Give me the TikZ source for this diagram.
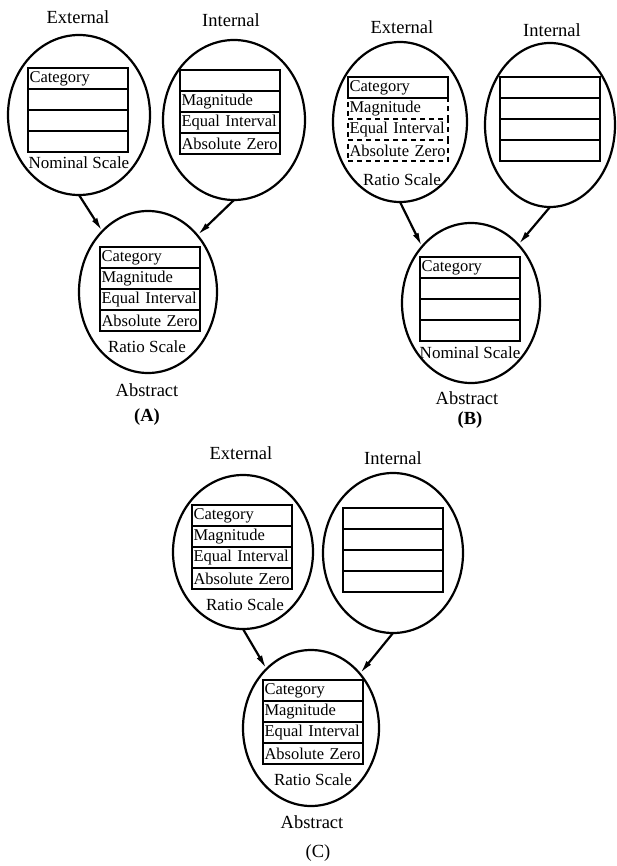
\documentclass[tikz,border=0pt]{standalone}
\usepackage{fontspec}
\setmainfont{Liberation Serif}
\usetikzlibrary{shapes.geometric,arrows.meta,positioning}

\tikzset{
  realm/.style={ellipse, draw, line width=2.2pt, inner sep=0pt, outer sep=0pt},
  cell/.style={draw, line width=2pt, anchor=north west, outer sep=0pt,
    minimum height=21pt, text width=97pt, inner xsep=1.5pt, inner ysep=0pt,
    align=left, font=\fontsize{16.5}{18}\selectfont},
  dcell/.style={cell, dashed, dash pattern=on 5pt off 4pt},
  head/.style={font=\fontsize{18.5}{20}\selectfont},
  scl/.style={font=\fontsize{17}{18}\selectfont},
  feed/.style={-{Latex[length=14pt,width=6pt]}, line width=2.2pt},
}

\begin{document}
\begin{tikzpicture}[x=1pt,y=-1pt]
    \useasboundingbox (0,0) rectangle (616,866);

    % (A)
    \node[head] (hxA) at (78,17) {External};
    \node[head] (hiA) at (231,20) {Internal};
    \node[realm, minimum width=142pt, minimum height=160pt] (extA) at (79,115) {};
    \node[realm, minimum width=142pt, minimum height=160pt] (intA) at (234,120) {};
    \node[realm, minimum width=138pt, minimum height=162pt] (absA) at (148,292) {};
    \foreach \t [count=\i] in {Category,{},{},{}}
        \node[cell] (xA\i) at (28,{68+21*(\i-1)}) {\t};
    \foreach \t [count=\i] in {{},Magnitude,Equal Interval,Absolute Zero}
        \node[cell] (iA\i) at (180,{70+21*(\i-1)}) {\t};
    \foreach \t [count=\i] in {Category,Magnitude,Equal Interval,Absolute Zero}
        \node[cell] (aA\i) at (100,{247+21*(\i-1)}) {\t};
    \node[scl] (sxA) at (79,163) {Nominal Scale};
    \node[scl] (saA) at (147,347) {Ratio Scale};
    \node[head] (abA) at (147,390) {Abstract};
    \node[head, font=\fontsize{18.5}{20}\selectfont\bfseries] (tagA) at (147,417) {(A)};
    \draw[feed] (extA.south) -- (absA.127);
    \draw[feed] (intA.south) -- (absA.49);

    % (B)
    \node[head] (hxB) at (402,27) {External};
    \node[head] (hiB) at (552,30) {Internal};
    \node[realm, minimum width=134pt, minimum height=160pt] (extB) at (400,122) {};
    \node[realm, minimum width=130pt, minimum height=164pt] (intB) at (550,125) {};
    \node[realm, minimum width=138pt, minimum height=160pt] (absB) at (471,303) {};
    \node[cell] (xB1) at (348,77) {Category};
    \foreach \t [count=\i from 2] in {Magnitude,Equal Interval,Absolute Zero}
        \node[dcell] (xB\i) at (348,{77+21*(\i-1)}) {\t};
    \foreach \i in {1,...,4}
        \node[cell] (iB\i) at (500,{77+21*(\i-1)}) {};
    \foreach \t [count=\i] in {Category,{},{},{}}
        \node[cell] (aB\i) at (420,{257+21*(\i-1)}) {\t};
    \node[scl] (sxB) at (402,180) {Ratio Scale};
    \node[scl] (saB) at (470,353) {Nominal Scale};
    \node[head] (abB) at (467,398) {Abstract};
    \node[head, font=\fontsize{18.5}{20}\selectfont\bfseries] (tagB) at (470,420) {(B)};
    \draw[feed] (extB.south) -- (absB.131);
    \draw[feed] (intB.south) -- (absB.51);

    % (C)
    \node[head] (hxC) at (241,453) {External};
    \node[head] (hiC) at (393,458) {Internal};
    \node[realm, minimum width=140pt, minimum height=154pt] (extC) at (243,552) {};
    \node[realm, minimum width=140pt, minimum height=160pt] (intC) at (393,553) {};
    \node[realm, minimum width=136pt, minimum height=156pt] (absC) at (311,728) {};
    \foreach \t [count=\i] in {Category,Magnitude,Equal Interval,Absolute Zero}
        \node[cell] (xC\i) at (192,{505+21*(\i-1)}) {\t};
    \foreach \i in {1,...,4}
        \node[cell] (iC\i) at (343,{508+21*(\i-1)}) {};
    \foreach \t [count=\i] in {Category,Magnitude,Equal Interval,Absolute Zero}
        \node[cell] (aC\i) at (263,{680+21*(\i-1)}) {\t};
    \node[scl] (sxC) at (245,605) {Ratio Scale};
    \node[scl] (saC) at (313,780) {Ratio Scale};
    \node[head] (abC) at (312,822) {Abstract};
    \node[head] (tagC) at (318,853) {(C)};
    \draw[feed] (extC.south) -- (absC.127);
    \draw[feed] (intC.south) -- (absC.48);
\end{tikzpicture}
\end{document}
